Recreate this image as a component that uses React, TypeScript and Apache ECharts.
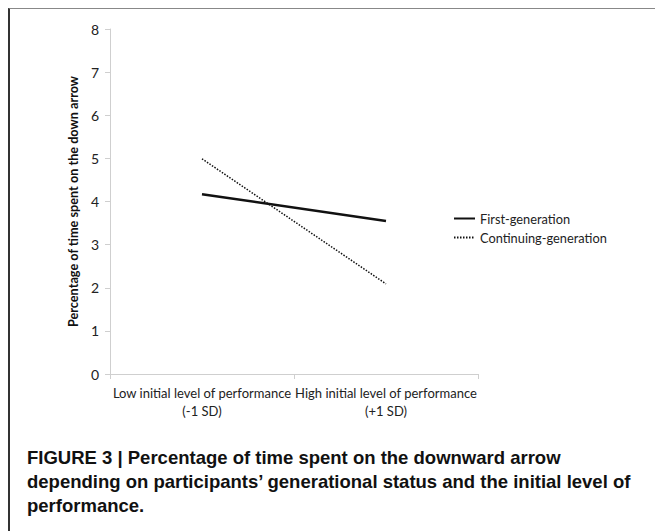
import React, { useEffect, useRef } from "react";
import * as echarts from "echarts";

const categories = [
  "Low initial level of performance\n(-1 SD)",
  "High initial level of performance\n(+1 SD)",
];
const firstGeneration = [4.17, 3.55];
const continuingGeneration = [4.99, 2.09];
const seriesNames = ["First-generation", "Continuing-generation"];
const yAxisName = "Percentage of time spent on the down arrow";
const yMin = 0;
const yMax = 8;
const yInterval = 1;
const captionLines = [
  "FIGURE 3 | Percentage of time spent on the downward arrow",
  "depending on participants\u2019 generational status and the initial level of",
  "performance.",
];

const chartFont = "Lato, 'Open Sans', sans-serif";

export default function App() {
  const ref = useRef<HTMLDivElement>(null);
  useEffect(() => {
    if (!ref.current) return;
    const chart = echarts.init(ref.current, null, { renderer: "svg" });
    chart.setOption({
      animation: false,
      textStyle: { fontFamily: chartFont },
      grid: { left: 100, top: 20, width: 368, height: 345 },
      legend: {
        orient: "vertical",
        left: 438,
        top: 198,
        itemWidth: 21,
        itemHeight: 14,
        itemGap: 6,
        itemStyle: { opacity: 0, color: "transparent", borderWidth: 0 },
        textStyle: { fontFamily: chartFont, fontSize: 12.8, color: "#222" },
        data: seriesNames,
      },
      xAxis: {
        type: "category",
        data: categories,
        boundaryGap: true,
        axisLine: { lineStyle: { color: "#cfcfcf", width: 1 } },
        axisTick: { show: true, length: 5, lineStyle: { color: "#cfcfcf" } },
        axisLabel: {
          fontFamily: chartFont,
          fontSize: 13,
          color: "#222",
          lineHeight: 18,
          margin: 10,
          interval: 0,
        },
      },
      yAxis: {
        type: "value",
        min: yMin,
        max: yMax,
        interval: yInterval,
        name: yAxisName,
        nameLocation: "middle",
        nameGap: 27,
        nameTextStyle: {
          fontFamily: chartFont,
          fontSize: 12.7,
          fontWeight: "bold",
          color: "#111",
        },
        splitLine: { show: false },
        axisLine: { show: true, lineStyle: { color: "#cfcfcf", width: 1 } },
        axisTick: { show: true, length: 5, lineStyle: { color: "#cfcfcf" } },
        axisLabel: {
          fontFamily: chartFont,
          fontSize: 14,
          color: "#222",
          margin: 11,
        },
      },
      series: [
        {
          name: seriesNames[0],
          type: "line",
          data: firstGeneration,
          symbol: "none",
          lineStyle: { color: "#111", width: 2.5, type: "solid" },
          itemStyle: { color: "#111" },
        },
        {
          name: seriesNames[1],
          type: "line",
          data: continuingGeneration,
          symbol: "none",
          lineStyle: { color: "#111", width: 1.5, type: [1.5, 1.5] },
          itemStyle: { color: "#111" },
        },
      ],
      graphic: [
        {
          type: "text",
          left: 17,
          top: 436,
          style: {
            text: captionLines.join("\n"),
            fontFamily: "'Liberation Sans', Arial, sans-serif",
            fontWeight: "bold",
            fontSize: 18.5,
            lineHeight: 24,
            fill: "#111",
          },
        },
      ],
    });
    return () => chart.dispose();
  }, []);

  return (
    <div
      style={{
        position: "absolute",
        left: 8,
        top: 8,
        width: 647,
        height: 523,
        boxSizing: "border-box",
        borderLeft: "2px solid #333",
        borderTop: "1px solid #888",
        background: "#fff",
      }}
    >
      <div ref={ref} style={{ width: 645, height: 522 }} />
    </div>
  );
}
